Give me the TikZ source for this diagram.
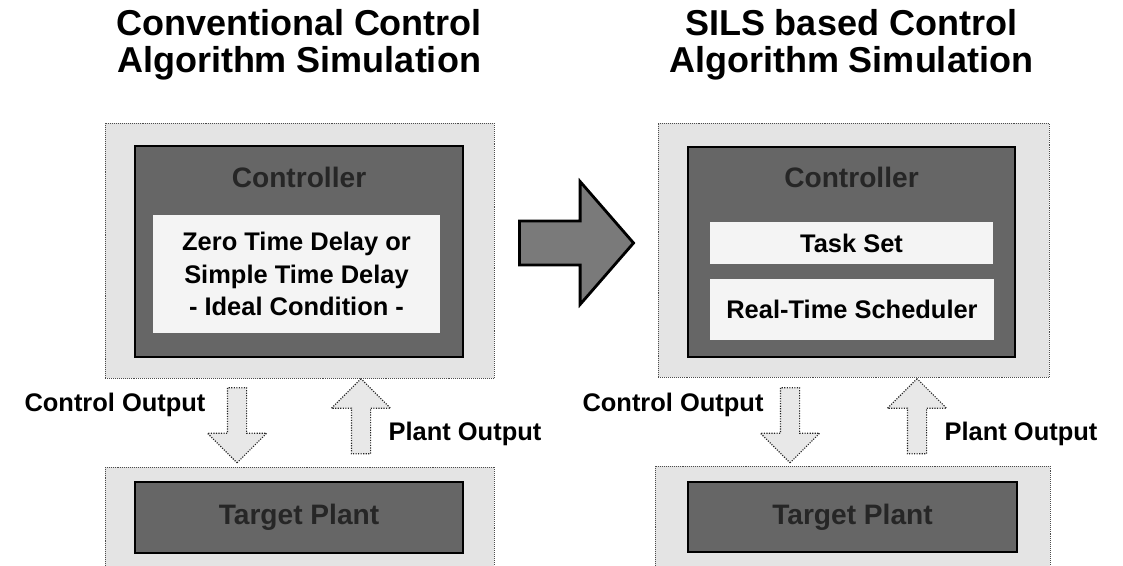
\documentclass[tikz,border=0pt]{standalone}
\usepackage{fontspec}
\setmainfont{Liberation Sans}
\usepackage{xcolor}
\usepackage{tikz}
\usetikzlibrary{shapes.arrows}
\definecolor{framecolor}{HTML}{E4E4E4}
\definecolor{ctrlcolor}{HTML}{666666}
\definecolor{innercolor}{HTML}{F4F4F4}
\definecolor{flowcolor}{HTML}{E8E8E8}
\definecolor{shiftcolor}{HTML}{7A7A7A}

\begin{document}
\begin{tikzpicture}[x=0.025cm, y=-0.025cm,
  simframe/.style={draw=black!70, densely dotted, fill=framecolor, rectangle, inner sep=0pt},
  ctrlbox/.style={draw=black, line width=2pt, fill=ctrlcolor, rectangle, inner sep=0pt},
  innerbox/.style={fill=innercolor, rectangle, inner sep=0pt},
  headtext/.style={align=center, font=\bfseries\fontsize{25.6pt}{26.5pt}\selectfont},
  boldtext/.style={align=center, font=\bfseries\fontsize{18.1pt}{23.1pt}\selectfont},
  embosstext/.style={font=\bfseries\fontsize{20pt}{24pt}\selectfont, text=black!85},
  flowarrow/.style={single arrow, draw=black!85, densely dotted, line width=0.8pt, fill=flowcolor, inner sep=0pt, inner ysep=0.225cm, single arrow head extend=0.5cm, minimum height=1.875cm},
  shiftarrow/.style={single arrow, draw=black, line width=2pt, fill=shiftcolor, inner sep=0pt, inner ysep=0.5125cm, single arrow head extend=0.9875cm, single arrow tip angle=98, minimum height=2.85cm}]%
\clip (0,0) rectangle (1123,565);%
% conventional simulation (left)
\node[headtext] (titleL) at (299,45) {Conventional Control\\Algorithm Simulation};%
\node[simframe, minimum width=9.725cm, minimum height=6.375cm] (simL) at (299.5,250.5) {};%
\node[ctrlbox, minimum width=8.2cm, minimum height=5.275cm] (ctrlL) at (299,251.5) {};%
\node[embosstext] (ctrlLname) at (299,177) {Controller};%
\node[innerbox, boldtext, minimum width=7.175cm, minimum height=2.95cm] (delayL) at (296.5,274) {Zero Time Delay or\\Simple Time Delay\\- Ideal Condition -};%
\node[simframe, minimum width=9.725cm, minimum height=2.7cm] (plantsimL) at (299.5,521) {};%
\node[ctrlbox, embosstext, minimum width=8.2cm, minimum height=1.775cm] (plantL) at (299,517.5) {Target Plant};%
\node[flowarrow, rotate=-90] (outL) at (237,420.5) {};%
\node[flowarrow, rotate=90] (backL) at (361,421) {};%
\node[boldtext] (outLname) at (115,405) {Control Output};%
\node[boldtext] (backLname) at (465,434) {Plant Output};%
% shift between the two
\node[shiftarrow] (shift) at (567,243) {};%
% SILS based simulation (right)
\node[headtext] (titleR) at (851,45) {SILS based Control\\Algorithm Simulation};%
\node[simframe, minimum width=9.775cm, minimum height=6.35cm] (simR) at (853.5,250) {};%
\node[ctrlbox, minimum width=8.175cm, minimum height=5.25cm] (ctrlR) at (851.5,252) {};%
\node[embosstext] (ctrlRname) at (851.5,177) {Controller};%
\node[innerbox, boldtext, minimum width=7.075cm, minimum height=1.05cm] (taskR) at (851.5,243) {Task Set};%
\node[innerbox, boldtext, minimum width=7.1cm, minimum height=1.525cm] (schedR) at (852,309.5) {Real-Time Scheduler};%
\node[simframe, minimum width=9.875cm, minimum height=2.725cm] (plantsimR) at (852.5,520.5) {};%
\node[ctrlbox, embosstext, minimum width=8.225cm, minimum height=1.75cm] (plantR) at (852.5,517) {Target Plant};%
\node[flowarrow, rotate=-90] (outR) at (790,420.5) {};%
\node[flowarrow, rotate=90] (backR) at (917,421) {};%
\node[boldtext] (outRname) at (673,405) {Control Output};%
\node[boldtext] (backRname) at (1021,434) {Plant Output};%
\end{tikzpicture}
\end{document}
